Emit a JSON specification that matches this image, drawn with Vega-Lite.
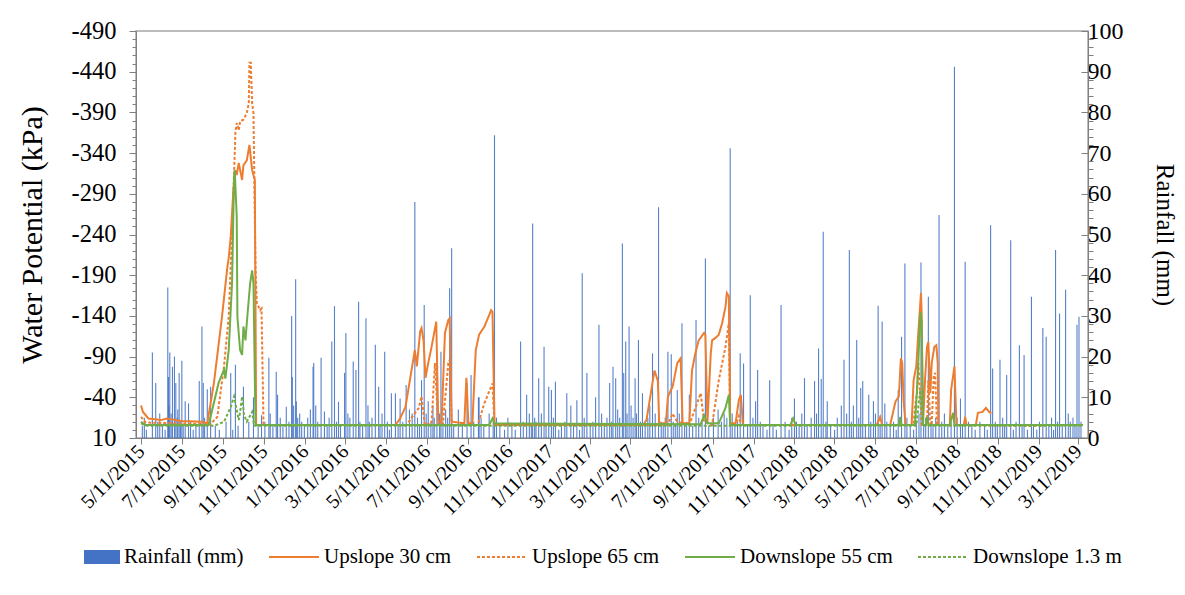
{
"$schema": "https://vega.github.io/schema/vega-lite/v6.json",
"width": 952, "height": 407,
"autosize": {"type": "none"},
"padding": {"left": 136, "top": 31, "right": 97, "bottom": 157},
"background": "white",
"config": {
  "font": "Liberation Serif",
  "view": {"stroke": "#a6a6a6", "strokeWidth": 1.5},
  "axis": {"grid": false, "labelColor": "black", "titleColor": "black", "titleFontWeight": "normal", "domainColor": "#808080", "tickColor": "#808080", "labelFont": "Liberation Serif", "titleFont": "Liberation Serif", "labelOverlap": false, "labelFlush": false, "labelBound": false}
},
"datasets": {
"rain": [
{"d":"2015-05-13","mm":3},{"d":"2015-05-16","mm":5},{"d":"2015-05-19","mm":2},{"d":"2015-05-28","mm":21},{"d":"2015-06-02","mm":13.5},{"d":"2015-06-05","mm":4},{"d":"2015-06-08","mm":6},{"d":"2015-06-12","mm":3},{"d":"2015-06-16","mm":2},{"d":"2015-06-20","mm":37},{"d":"2015-06-21","mm":15},{"d":"2015-06-22","mm":8},{"d":"2015-06-23","mm":21},{"d":"2015-06-25","mm":6},{"d":"2015-06-27","mm":17.5},{"d":"2015-06-30","mm":20},{"d":"2015-07-02","mm":13.5},{"d":"2015-07-04","mm":5},{"d":"2015-07-05","mm":7},{"d":"2015-07-07","mm":16},{"d":"2015-07-09","mm":4},{"d":"2015-07-11","mm":19},{"d":"2015-07-13","mm":3},{"d":"2015-07-16","mm":9},{"d":"2015-07-21","mm":8.5},{"d":"2015-07-24","mm":4},{"d":"2015-07-28","mm":2},{"d":"2015-08-01","mm":3},{"d":"2015-08-06","mm":14},{"d":"2015-08-10","mm":27.4},{"d":"2015-08-12","mm":13.5},{"d":"2015-08-14","mm":5},{"d":"2015-08-18","mm":12},{"d":"2015-08-23","mm":12.6},{"d":"2015-08-30","mm":3},{"d":"2015-09-05","mm":2},{"d":"2015-09-15","mm":4},{"d":"2015-09-22","mm":16},{"d":"2015-09-25","mm":2},{"d":"2015-09-29","mm":18},{"d":"2015-10-03","mm":3},{"d":"2015-10-11","mm":12.6},{"d":"2015-10-19","mm":4},{"d":"2015-10-26","mm":10},{"d":"2015-11-02","mm":3},{"d":"2015-11-07","mm":5.6},{"d":"2015-11-12","mm":4},{"d":"2015-11-18","mm":19.7},{"d":"2015-11-20","mm":6},{"d":"2015-11-24","mm":3},{"d":"2015-11-29","mm":16.3},{"d":"2015-12-01","mm":10.6},{"d":"2015-12-05","mm":5},{"d":"2015-12-09","mm":3},{"d":"2015-12-14","mm":7.7},{"d":"2015-12-18","mm":4},{"d":"2015-12-22","mm":30},{"d":"2015-12-23","mm":15},{"d":"2015-12-25","mm":8},{"d":"2015-12-28","mm":39},{"d":"2015-12-29","mm":9},{"d":"2015-12-31","mm":5},
{"d":"2016-01-03","mm":6},{"d":"2016-01-06","mm":4},{"d":"2016-01-10","mm":3},{"d":"2016-01-15","mm":5},{"d":"2016-01-19","mm":7},{"d":"2016-01-23","mm":17.5},{"d":"2016-01-24","mm":18.4},{"d":"2016-01-27","mm":8},{"d":"2016-01-30","mm":4},{"d":"2016-02-04","mm":19.7},{"d":"2016-02-09","mm":6.5},{"d":"2016-02-13","mm":3},{"d":"2016-02-16","mm":5},{"d":"2016-02-20","mm":23.7},{"d":"2016-02-24","mm":32.4},{"d":"2016-02-27","mm":4},{"d":"2016-03-01","mm":8.9},{"d":"2016-03-04","mm":3},{"d":"2016-03-10","mm":16},{"d":"2016-03-12","mm":25.8},{"d":"2016-03-15","mm":6},{"d":"2016-03-18","mm":5},{"d":"2016-03-23","mm":18.8},{"d":"2016-03-27","mm":16.7},{"d":"2016-03-31","mm":33.5},{"d":"2016-04-02","mm":4},{"d":"2016-04-06","mm":3},{"d":"2016-04-11","mm":29.4},{"d":"2016-04-14","mm":8},{"d":"2016-04-16","mm":4},{"d":"2016-04-20","mm":5},{"d":"2016-04-25","mm":22.9},{"d":"2016-04-30","mm":12.6},{"d":"2016-05-02","mm":3},{"d":"2016-05-05","mm":6},{"d":"2016-05-09","mm":21.2},{"d":"2016-05-13","mm":4},{"d":"2016-05-16","mm":2},{"d":"2016-05-19","mm":11},{"d":"2016-05-25","mm":11},{"d":"2016-05-29","mm":3},{"d":"2016-06-01","mm":9.7},{"d":"2016-06-05","mm":4},{"d":"2016-06-10","mm":13},{"d":"2016-06-15","mm":7},{"d":"2016-06-19","mm":6},{"d":"2016-06-23","mm":58},{"d":"2016-06-27","mm":5},{"d":"2016-06-30","mm":3},{"d":"2016-07-03","mm":14.2},{"d":"2016-07-07","mm":32.7},{"d":"2016-07-10","mm":6},{"d":"2016-07-13","mm":9},{"d":"2016-07-17","mm":4},{"d":"2016-07-20","mm":8},{"d":"2016-07-22","mm":5},{"d":"2016-07-26","mm":19.2},{"d":"2016-07-30","mm":6},{"d":"2016-08-01","mm":21.2},{"d":"2016-08-04","mm":4},{"d":"2016-08-08","mm":7},{"d":"2016-08-11","mm":5},{"d":"2016-08-14","mm":36.8},{"d":"2016-08-17","mm":46.6},{"d":"2016-08-20","mm":3},{"d":"2016-08-27","mm":7},{"d":"2016-09-02","mm":3},{"d":"2016-09-09","mm":13.5},{"d":"2016-09-15","mm":15.5},{"d":"2016-09-19","mm":4},{"d":"2016-09-26","mm":10},{"d":"2016-09-27","mm":10},{"d":"2016-09-30","mm":5},{"d":"2016-10-04","mm":3},{"d":"2016-10-12","mm":6},{"d":"2016-10-18","mm":4},{"d":"2016-10-20","mm":74.4},{"d":"2016-10-23","mm":5},{"d":"2016-10-28","mm":3},{"d":"2016-11-04","mm":2},{"d":"2016-11-09","mm":5},{"d":"2016-11-15","mm":3},{"d":"2016-11-20","mm":2},{"d":"2016-11-28","mm":23.7},{"d":"2016-12-02","mm":4},{"d":"2016-12-07","mm":10.6},{"d":"2016-12-11","mm":6},{"d":"2016-12-14","mm":3},{"d":"2016-12-16","mm":52.7},{"d":"2016-12-19","mm":5},{"d":"2016-12-21","mm":4},{"d":"2016-12-25","mm":14.7},{"d":"2016-12-29","mm":6},
{"d":"2017-01-02","mm":22.4},{"d":"2017-01-05","mm":3},{"d":"2017-01-09","mm":12.6},{"d":"2017-01-13","mm":11.8},{"d":"2017-01-16","mm":5},{"d":"2017-01-19","mm":13.8},{"d":"2017-01-24","mm":2},{"d":"2017-01-28","mm":3},{"d":"2017-02-02","mm":4},{"d":"2017-02-05","mm":11},{"d":"2017-02-11","mm":8},{"d":"2017-02-15","mm":3},{"d":"2017-02-20","mm":9.3},{"d":"2017-02-24","mm":2},{"d":"2017-02-28","mm":40.5},{"d":"2017-03-03","mm":5},{"d":"2017-03-07","mm":16},{"d":"2017-03-12","mm":3},{"d":"2017-03-16","mm":4},{"d":"2017-03-20","mm":10},{"d":"2017-03-25","mm":27.8},{"d":"2017-03-29","mm":6},{"d":"2017-04-02","mm":3},{"d":"2017-04-06","mm":5},{"d":"2017-04-10","mm":13.5},{"d":"2017-04-13","mm":4},{"d":"2017-04-15","mm":17.5},{"d":"2017-04-19","mm":14.7},{"d":"2017-04-22","mm":7},{"d":"2017-04-25","mm":5},{"d":"2017-04-29","mm":47.8},{"d":"2017-05-01","mm":16},{"d":"2017-05-04","mm":23.7},{"d":"2017-05-06","mm":6},{"d":"2017-05-09","mm":27.4},{"d":"2017-05-12","mm":8},{"d":"2017-05-15","mm":5},{"d":"2017-05-18","mm":14.7},{"d":"2017-05-20","mm":6},{"d":"2017-05-23","mm":24.1},{"d":"2017-05-26","mm":4},{"d":"2017-05-29","mm":11},{"d":"2017-06-02","mm":3},{"d":"2017-06-06","mm":5},{"d":"2017-06-09","mm":8},{"d":"2017-06-13","mm":20.8},{"d":"2017-06-17","mm":6},{"d":"2017-06-22","mm":56.7},{"d":"2017-06-26","mm":4},{"d":"2017-06-29","mm":3},{"d":"2017-07-02","mm":5},{"d":"2017-07-06","mm":21.2},{"d":"2017-07-11","mm":20.6},{"d":"2017-07-14","mm":4},{"d":"2017-07-17","mm":3},{"d":"2017-07-20","mm":11.8},{"d":"2017-07-23","mm":6},{"d":"2017-07-27","mm":28.2},{"d":"2017-07-31","mm":3},{"d":"2017-08-03","mm":4},{"d":"2017-08-07","mm":10.6},{"d":"2017-08-12","mm":3},{"d":"2017-08-17","mm":29},{"d":"2017-08-21","mm":5},{"d":"2017-08-26","mm":4},{"d":"2017-08-31","mm":44.1},{"d":"2017-09-05","mm":3},{"d":"2017-09-12","mm":5},{"d":"2017-09-19","mm":7},{"d":"2017-09-24","mm":4},{"d":"2017-09-28","mm":6},{"d":"2017-10-02","mm":5},{"d":"2017-10-07","mm":71.2},{"d":"2017-10-10","mm":6},{"d":"2017-10-14","mm":3},{"d":"2017-10-18","mm":4},{"d":"2017-10-22","mm":20.8},{"d":"2017-10-27","mm":18.3},{"d":"2017-11-02","mm":3},{"d":"2017-11-06","mm":35.1},{"d":"2017-11-10","mm":5},{"d":"2017-11-14","mm":9},{"d":"2017-11-17","mm":16.7},{"d":"2017-11-21","mm":4},{"d":"2017-11-25","mm":3},{"d":"2017-12-01","mm":2},{"d":"2017-12-05","mm":14.2},{"d":"2017-12-10","mm":3},{"d":"2017-12-15","mm":2},{"d":"2017-12-22","mm":32.7},{"d":"2017-12-28","mm":4},
{"d":"2018-01-03","mm":2},{"d":"2018-01-07","mm":5},{"d":"2018-01-11","mm":9.7},{"d":"2018-01-14","mm":4},{"d":"2018-01-18","mm":3},{"d":"2018-01-22","mm":6},{"d":"2018-01-26","mm":14.7},{"d":"2018-01-30","mm":3},{"d":"2018-02-05","mm":5},{"d":"2018-02-10","mm":14},{"d":"2018-02-13","mm":6},{"d":"2018-02-16","mm":22},{"d":"2018-02-20","mm":14.5},{"d":"2018-02-23","mm":50.7},{"d":"2018-02-27","mm":4},{"d":"2018-03-01","mm":9},{"d":"2018-03-06","mm":3},{"d":"2018-03-12","mm":2},{"d":"2018-03-16","mm":5},{"d":"2018-03-22","mm":8},{"d":"2018-03-26","mm":19.2},{"d":"2018-03-30","mm":6},{"d":"2018-04-03","mm":46.2},{"d":"2018-04-06","mm":4},{"d":"2018-04-09","mm":8},{"d":"2018-04-14","mm":24.1},{"d":"2018-04-17","mm":5},{"d":"2018-04-20","mm":12.3},{"d":"2018-04-23","mm":14},{"d":"2018-04-27","mm":3},{"d":"2018-05-02","mm":10.6},{"d":"2018-05-05","mm":4},{"d":"2018-05-09","mm":9},{"d":"2018-05-12","mm":6},{"d":"2018-05-16","mm":32.5},{"d":"2018-05-19","mm":3},{"d":"2018-05-22","mm":28.6},{"d":"2018-05-26","mm":8.5},{"d":"2018-05-29","mm":4},{"d":"2018-06-03","mm":3},{"d":"2018-06-08","mm":4},{"d":"2018-06-12","mm":2},{"d":"2018-06-15","mm":11.8},{"d":"2018-06-20","mm":24.9},{"d":"2018-06-25","mm":42.9},{"d":"2018-06-28","mm":5},{"d":"2018-07-03","mm":3},{"d":"2018-07-08","mm":2},{"d":"2018-07-12","mm":4},{"d":"2018-07-16","mm":6},{"d":"2018-07-19","mm":43.1},{"d":"2018-07-23","mm":3},{"d":"2018-07-26","mm":5},{"d":"2018-07-30","mm":34.7},{"d":"2018-08-03","mm":4},{"d":"2018-08-06","mm":3},{"d":"2018-08-10","mm":5},{"d":"2018-08-15","mm":54.8},{"d":"2018-08-19","mm":4},{"d":"2018-08-23","mm":6},{"d":"2018-08-28","mm":3},{"d":"2018-09-02","mm":4},{"d":"2018-09-07","mm":91.2},{"d":"2018-09-11","mm":5},{"d":"2018-09-16","mm":9.7},{"d":"2018-09-19","mm":3},{"d":"2018-09-23","mm":43.3},{"d":"2018-09-28","mm":4},{"d":"2018-10-03","mm":3},{"d":"2018-10-08","mm":2},{"d":"2018-10-15","mm":4},{"d":"2018-10-22","mm":3},{"d":"2018-10-26","mm":2},{"d":"2018-10-31","mm":52.3},{"d":"2018-11-03","mm":17.1},{"d":"2018-11-07","mm":4},{"d":"2018-11-10","mm":3},{"d":"2018-11-14","mm":19.2},{"d":"2018-11-18","mm":5},{"d":"2018-11-21","mm":3},{"d":"2018-11-24","mm":15.5},{"d":"2018-11-30","mm":48.6},{"d":"2018-12-04","mm":2},{"d":"2018-12-08","mm":4},{"d":"2018-12-13","mm":22.8},{"d":"2018-12-17","mm":3},{"d":"2018-12-20","mm":20.4},{"d":"2018-12-25","mm":2},{"d":"2018-12-31","mm":34.7},
{"d":"2019-01-03","mm":3},{"d":"2019-01-08","mm":2},{"d":"2019-01-12","mm":4},{"d":"2019-01-17","mm":27},{"d":"2019-01-22","mm":24.9},{"d":"2019-01-26","mm":3},{"d":"2019-01-30","mm":5},{"d":"2019-02-02","mm":2},{"d":"2019-02-05","mm":46.2},{"d":"2019-02-08","mm":4},{"d":"2019-02-11","mm":30.6},{"d":"2019-02-15","mm":3},{"d":"2019-02-20","mm":36.4},{"d":"2019-02-24","mm":6},{"d":"2019-02-27","mm":4},{"d":"2019-03-03","mm":5},{"d":"2019-03-06","mm":3},{"d":"2019-03-09","mm":27.8},{"d":"2019-03-12","mm":29.8},{"d":"2019-03-15","mm":4}
],
"wp": [
{"s":"Upslope 30 cm","d":"2015-05-11","v":-30},{"s":"Upslope 30 cm","d":"2015-05-14","v":-22},{"s":"Upslope 30 cm","d":"2015-05-22","v":-14},{"s":"Upslope 30 cm","d":"2015-06-10","v":-12},{"s":"Upslope 30 cm","d":"2015-06-18","v":-14},{"s":"Upslope 30 cm","d":"2015-07-10","v":-11},{"s":"Upslope 30 cm","d":"2015-08-10","v":-10},{"s":"Upslope 30 cm","d":"2015-08-18","v":-8},{"s":"Upslope 30 cm","d":"2015-08-28","v":-58},{"s":"Upslope 30 cm","d":"2015-09-09","v":-139},{"s":"Upslope 30 cm","d":"2015-09-17","v":-200},{"s":"Upslope 30 cm","d":"2015-09-19","v":-211},{"s":"Upslope 30 cm","d":"2015-09-22","v":-237},{"s":"Upslope 30 cm","d":"2015-09-26","v":-295},{"s":"Upslope 30 cm","d":"2015-09-29","v":-319},{"s":"Upslope 30 cm","d":"2015-10-01","v":-313},{"s":"Upslope 30 cm","d":"2015-10-04","v":-328},{"s":"Upslope 30 cm","d":"2015-10-09","v":-307},{"s":"Upslope 30 cm","d":"2015-10-11","v":-325},{"s":"Upslope 30 cm","d":"2015-10-16","v":-331},{"s":"Upslope 30 cm","d":"2015-10-20","v":-350},{"s":"Upslope 30 cm","d":"2015-10-24","v":-319},{"s":"Upslope 30 cm","d":"2015-10-28","v":-307},{"s":"Upslope 30 cm","d":"2015-10-30","v":-6},
{"s":"Upslope 30 cm","d":"2016-05-25","v":-6},{"s":"Upslope 30 cm","d":"2016-06-01","v":-14},{"s":"Upslope 30 cm","d":"2016-06-09","v":-28},{"s":"Upslope 30 cm","d":"2016-06-19","v":-78},{"s":"Upslope 30 cm","d":"2016-06-23","v":-98},{"s":"Upslope 30 cm","d":"2016-06-26","v":-78},{"s":"Upslope 30 cm","d":"2016-07-01","v":-121},{"s":"Upslope 30 cm","d":"2016-07-03","v":-125},{"s":"Upslope 30 cm","d":"2016-07-06","v":-110},{"s":"Upslope 30 cm","d":"2016-07-09","v":-64},{"s":"Upslope 30 cm","d":"2016-07-13","v":-82},{"s":"Upslope 30 cm","d":"2016-07-18","v":-102},{"s":"Upslope 30 cm","d":"2016-07-25","v":-133},{"s":"Upslope 30 cm","d":"2016-07-28","v":-10},{"s":"Upslope 30 cm","d":"2016-08-02","v":-10},{"s":"Upslope 30 cm","d":"2016-08-07","v":-119},{"s":"Upslope 30 cm","d":"2016-08-12","v":-135},{"s":"Upslope 30 cm","d":"2016-08-14","v":-137},{"s":"Upslope 30 cm","d":"2016-08-17","v":-10},{"s":"Upslope 30 cm","d":"2016-09-05","v":-8},{"s":"Upslope 30 cm","d":"2016-09-08","v":-64},{"s":"Upslope 30 cm","d":"2016-09-11","v":-8},{"s":"Upslope 30 cm","d":"2016-09-17","v":-8},{"s":"Upslope 30 cm","d":"2016-09-22","v":-98},{"s":"Upslope 30 cm","d":"2016-09-27","v":-117},{"s":"Upslope 30 cm","d":"2016-10-05","v":-127},{"s":"Upslope 30 cm","d":"2016-10-10","v":-137},{"s":"Upslope 30 cm","d":"2016-10-15","v":-147},{"s":"Upslope 30 cm","d":"2016-10-17","v":-145},{"s":"Upslope 30 cm","d":"2016-10-20","v":-6},
{"s":"Upslope 30 cm","d":"2017-05-30","v":-6},{"s":"Upslope 30 cm","d":"2017-06-04","v":-12},{"s":"Upslope 30 cm","d":"2017-06-16","v":-73},{"s":"Upslope 30 cm","d":"2017-06-21","v":-60},{"s":"Upslope 30 cm","d":"2017-06-23","v":-8},{"s":"Upslope 30 cm","d":"2017-07-03","v":-8},{"s":"Upslope 30 cm","d":"2017-07-06","v":-41},{"s":"Upslope 30 cm","d":"2017-07-13","v":-53},{"s":"Upslope 30 cm","d":"2017-07-20","v":-82},{"s":"Upslope 30 cm","d":"2017-07-25","v":-88},{"s":"Upslope 30 cm","d":"2017-07-28","v":-8},{"s":"Upslope 30 cm","d":"2017-08-07","v":-8},{"s":"Upslope 30 cm","d":"2017-08-11","v":-73},{"s":"Upslope 30 cm","d":"2017-08-16","v":-94},{"s":"Upslope 30 cm","d":"2017-08-21","v":-110},{"s":"Upslope 30 cm","d":"2017-08-29","v":-119},{"s":"Upslope 30 cm","d":"2017-08-31","v":-117},{"s":"Upslope 30 cm","d":"2017-09-03","v":-8},{"s":"Upslope 30 cm","d":"2017-09-08","v":-94},{"s":"Upslope 30 cm","d":"2017-09-10","v":-110},{"s":"Upslope 30 cm","d":"2017-09-15","v":-113},{"s":"Upslope 30 cm","d":"2017-09-20","v":-117},{"s":"Upslope 30 cm","d":"2017-09-25","v":-131},{"s":"Upslope 30 cm","d":"2017-09-30","v":-151},{"s":"Upslope 30 cm","d":"2017-10-02","v":-168},{"s":"Upslope 30 cm","d":"2017-10-05","v":-164},{"s":"Upslope 30 cm","d":"2017-10-07","v":-8},{"s":"Upslope 30 cm","d":"2017-10-15","v":-8},{"s":"Upslope 30 cm","d":"2017-10-20","v":-37},{"s":"Upslope 30 cm","d":"2017-10-23","v":-43},{"s":"Upslope 30 cm","d":"2017-10-26","v":-6},
{"s":"Upslope 30 cm","d":"2018-05-14","v":-6},{"s":"Upslope 30 cm","d":"2018-05-19","v":-16},{"s":"Upslope 30 cm","d":"2018-05-22","v":-6},{"s":"Upslope 30 cm","d":"2018-06-03","v":-6},{"s":"Upslope 30 cm","d":"2018-06-11","v":-35},{"s":"Upslope 30 cm","d":"2018-06-16","v":-41},{"s":"Upslope 30 cm","d":"2018-06-19","v":-88},{"s":"Upslope 30 cm","d":"2018-06-21","v":-82},{"s":"Upslope 30 cm","d":"2018-06-23","v":-37},{"s":"Upslope 30 cm","d":"2018-06-26","v":-6},{"s":"Upslope 30 cm","d":"2018-07-05","v":-6},{"s":"Upslope 30 cm","d":"2018-07-08","v":-61},{"s":"Upslope 30 cm","d":"2018-07-12","v":-78},{"s":"Upslope 30 cm","d":"2018-07-15","v":-119},{"s":"Upslope 30 cm","d":"2018-07-19","v":-168},{"s":"Upslope 30 cm","d":"2018-07-20","v":-143},{"s":"Upslope 30 cm","d":"2018-07-22","v":-6},{"s":"Upslope 30 cm","d":"2018-07-25","v":-61},{"s":"Upslope 30 cm","d":"2018-07-28","v":-102},{"s":"Upslope 30 cm","d":"2018-07-30","v":-108},{"s":"Upslope 30 cm","d":"2018-08-02","v":-45},{"s":"Upslope 30 cm","d":"2018-08-04","v":-82},{"s":"Upslope 30 cm","d":"2018-08-08","v":-102},{"s":"Upslope 30 cm","d":"2018-08-11","v":-104},{"s":"Upslope 30 cm","d":"2018-08-13","v":-82},{"s":"Upslope 30 cm","d":"2018-08-14","v":-6},{"s":"Upslope 30 cm","d":"2018-08-31","v":-6},{"s":"Upslope 30 cm","d":"2018-09-02","v":-49},{"s":"Upslope 30 cm","d":"2018-09-07","v":-78},{"s":"Upslope 30 cm","d":"2018-09-10","v":-6},{"s":"Upslope 30 cm","d":"2018-09-21","v":-6},{"s":"Upslope 30 cm","d":"2018-09-23","v":-16},{"s":"Upslope 30 cm","d":"2018-09-25","v":-6},{"s":"Upslope 30 cm","d":"2018-10-09","v":-6},{"s":"Upslope 30 cm","d":"2018-10-12","v":-21},{"s":"Upslope 30 cm","d":"2018-10-19","v":-22},{"s":"Upslope 30 cm","d":"2018-10-24","v":-27},{"s":"Upslope 30 cm","d":"2018-10-29","v":-22},{"s":"Upslope 30 cm","d":"2018-11-01","v":-20},
{"s":"Upslope 65 cm","d":"2015-05-11","v":-16},{"s":"Upslope 65 cm","d":"2015-05-18","v":-9},{"s":"Upslope 65 cm","d":"2015-08-23","v":-7},{"s":"Upslope 65 cm","d":"2015-09-02","v":-16},{"s":"Upslope 65 cm","d":"2015-09-12","v":-78},{"s":"Upslope 65 cm","d":"2015-09-19","v":-139},{"s":"Upslope 65 cm","d":"2015-09-24","v":-242},{"s":"Upslope 65 cm","d":"2015-09-29","v":-365},{"s":"Upslope 65 cm","d":"2015-10-01","v":-377},{"s":"Upslope 65 cm","d":"2015-10-04","v":-368},{"s":"Upslope 65 cm","d":"2015-10-06","v":-379},{"s":"Upslope 65 cm","d":"2015-10-11","v":-381},{"s":"Upslope 65 cm","d":"2015-10-16","v":-389},{"s":"Upslope 65 cm","d":"2015-10-19","v":-401},{"s":"Upslope 65 cm","d":"2015-10-20","v":-451},{"s":"Upslope 65 cm","d":"2015-10-22","v":-451},{"s":"Upslope 65 cm","d":"2015-10-24","v":-401},{"s":"Upslope 65 cm","d":"2015-10-26","v":-389},{"s":"Upslope 65 cm","d":"2015-10-29","v":-200},{"s":"Upslope 65 cm","d":"2015-10-31","v":-156},{"s":"Upslope 65 cm","d":"2015-11-05","v":-147},{"s":"Upslope 65 cm","d":"2015-11-07","v":-149},{"s":"Upslope 65 cm","d":"2015-11-10","v":-6},
{"s":"Upslope 65 cm","d":"2016-06-11","v":-6},{"s":"Upslope 65 cm","d":"2016-06-19","v":-16},{"s":"Upslope 65 cm","d":"2016-06-29","v":-27},{"s":"Upslope 65 cm","d":"2016-07-03","v":-41},{"s":"Upslope 65 cm","d":"2016-07-08","v":-6},{"s":"Upslope 65 cm","d":"2016-07-18","v":-8},{"s":"Upslope 65 cm","d":"2016-07-23","v":-82},{"s":"Upslope 65 cm","d":"2016-07-28","v":-6},{"s":"Upslope 65 cm","d":"2016-08-04","v":-8},{"s":"Upslope 65 cm","d":"2016-08-12","v":-82},{"s":"Upslope 65 cm","d":"2016-08-14","v":-86},{"s":"Upslope 65 cm","d":"2016-08-17","v":-6},{"s":"Upslope 65 cm","d":"2016-09-25","v":-6},{"s":"Upslope 65 cm","d":"2016-10-05","v":-33},{"s":"Upslope 65 cm","d":"2016-10-15","v":-53},{"s":"Upslope 65 cm","d":"2016-10-17","v":-57},{"s":"Upslope 65 cm","d":"2016-10-20","v":-6},
{"s":"Upslope 65 cm","d":"2017-07-06","v":-6},{"s":"Upslope 65 cm","d":"2017-07-13","v":-20},{"s":"Upslope 65 cm","d":"2017-07-20","v":-10},{"s":"Upslope 65 cm","d":"2017-08-07","v":-6},{"s":"Upslope 65 cm","d":"2017-08-24","v":-45},{"s":"Upslope 65 cm","d":"2017-08-29","v":-10},{"s":"Upslope 65 cm","d":"2017-09-10","v":-6},{"s":"Upslope 65 cm","d":"2017-09-20","v":-61},{"s":"Upslope 65 cm","d":"2017-09-30","v":-102},{"s":"Upslope 65 cm","d":"2017-10-05","v":-131},{"s":"Upslope 65 cm","d":"2017-10-07","v":-6},{"s":"Upslope 65 cm","d":"2017-10-15","v":-6},{"s":"Upslope 65 cm","d":"2017-10-20","v":-17},{"s":"Upslope 65 cm","d":"2017-10-23","v":-6},
{"s":"Upslope 65 cm","d":"2018-07-08","v":-6},{"s":"Upslope 65 cm","d":"2018-07-10","v":-28},{"s":"Upslope 65 cm","d":"2018-07-13","v":-45},{"s":"Upslope 65 cm","d":"2018-07-15","v":-82},{"s":"Upslope 65 cm","d":"2018-07-18","v":-40},{"s":"Upslope 65 cm","d":"2018-07-20","v":-6},{"s":"Upslope 65 cm","d":"2018-07-28","v":-6},{"s":"Upslope 65 cm","d":"2018-07-30","v":-61},{"s":"Upslope 65 cm","d":"2018-08-02","v":-6},{"s":"Upslope 65 cm","d":"2018-08-04","v":-6},{"s":"Upslope 65 cm","d":"2018-08-07","v":-65},{"s":"Upslope 65 cm","d":"2018-08-09","v":-70},{"s":"Upslope 65 cm","d":"2018-08-12","v":-6},{"s":"Upslope 65 cm","d":"2019-01-21","v":-5},
{"s":"Downslope 55 cm","d":"2015-05-11","v":-10},{"s":"Downslope 55 cm","d":"2015-05-18","v":-6},{"s":"Downslope 55 cm","d":"2015-08-20","v":-6},{"s":"Downslope 55 cm","d":"2015-09-04","v":-58},{"s":"Downslope 55 cm","d":"2015-09-12","v":-74},{"s":"Downslope 55 cm","d":"2015-09-14","v":-63},{"s":"Downslope 55 cm","d":"2015-09-19","v":-98},{"s":"Downslope 55 cm","d":"2015-09-24","v":-180},{"s":"Downslope 55 cm","d":"2015-09-27","v":-311},{"s":"Downslope 55 cm","d":"2015-09-28","v":-319},{"s":"Downslope 55 cm","d":"2015-10-01","v":-262},{"s":"Downslope 55 cm","d":"2015-10-02","v":-139},{"s":"Downslope 55 cm","d":"2015-10-06","v":-98},{"s":"Downslope 55 cm","d":"2015-10-09","v":-92},{"s":"Downslope 55 cm","d":"2015-10-11","v":-127},{"s":"Downslope 55 cm","d":"2015-10-14","v":-110},{"s":"Downslope 55 cm","d":"2015-10-16","v":-131},{"s":"Downslope 55 cm","d":"2015-10-21","v":-180},{"s":"Downslope 55 cm","d":"2015-10-24","v":-196},{"s":"Downslope 55 cm","d":"2015-10-26","v":-180},{"s":"Downslope 55 cm","d":"2015-10-29","v":-6},{"s":"Downslope 55 cm","d":"2016-10-12","v":-6},{"s":"Downslope 55 cm","d":"2016-10-17","v":-14},{"s":"Downslope 55 cm","d":"2016-10-20","v":-8},{"s":"Downslope 55 cm","d":"2017-08-24","v":-7},{"s":"Downslope 55 cm","d":"2017-08-29","v":-18},{"s":"Downslope 55 cm","d":"2017-09-03","v":-8},{"s":"Downslope 55 cm","d":"2017-09-20","v":-8},{"s":"Downslope 55 cm","d":"2017-09-30","v":-27},{"s":"Downslope 55 cm","d":"2017-10-05","v":-43},{"s":"Downslope 55 cm","d":"2017-10-07","v":-6},{"s":"Downslope 55 cm","d":"2018-01-05","v":-6},{"s":"Downslope 55 cm","d":"2018-01-09","v":-14},{"s":"Downslope 55 cm","d":"2018-01-13","v":-6},{"s":"Downslope 55 cm","d":"2018-06-16","v":-6},{"s":"Downslope 55 cm","d":"2018-06-18","v":-16},{"s":"Downslope 55 cm","d":"2018-06-20","v":-6},{"s":"Downslope 55 cm","d":"2018-07-10","v":-6},{"s":"Downslope 55 cm","d":"2018-07-13","v":-49},{"s":"Downslope 55 cm","d":"2018-07-15","v":-82},{"s":"Downslope 55 cm","d":"2018-07-18","v":-145},{"s":"Downslope 55 cm","d":"2018-07-20","v":-133},{"s":"Downslope 55 cm","d":"2018-07-22","v":-6},{"s":"Downslope 55 cm","d":"2018-07-26","v":-6},{"s":"Downslope 55 cm","d":"2018-07-28","v":-16},{"s":"Downslope 55 cm","d":"2018-07-30","v":-6},{"s":"Downslope 55 cm","d":"2018-08-31","v":-6},{"s":"Downslope 55 cm","d":"2018-09-05","v":-21},{"s":"Downslope 55 cm","d":"2018-09-07","v":-6},{"s":"Downslope 55 cm","d":"2019-03-18","v":-6},
{"s":"Downslope 1.3 m","d":"2015-05-11","v":-8},{"s":"Downslope 1.3 m","d":"2015-05-20","v":-5},{"s":"Downslope 1.3 m","d":"2015-08-28","v":-5},{"s":"Downslope 1.3 m","d":"2015-09-12","v":-10},{"s":"Downslope 1.3 m","d":"2015-09-22","v":-28},{"s":"Downslope 1.3 m","d":"2015-09-27","v":-41},{"s":"Downslope 1.3 m","d":"2015-09-29","v":-33},{"s":"Downslope 1.3 m","d":"2015-10-04","v":-12},{"s":"Downslope 1.3 m","d":"2015-10-06","v":-22},{"s":"Downslope 1.3 m","d":"2015-10-09","v":-41},{"s":"Downslope 1.3 m","d":"2015-10-12","v":-18},{"s":"Downslope 1.3 m","d":"2015-10-16","v":-10},{"s":"Downslope 1.3 m","d":"2015-10-24","v":-22},{"s":"Downslope 1.3 m","d":"2015-10-27","v":-5},{"s":"Downslope 1.3 m","d":"2018-07-12","v":-5},{"s":"Downslope 1.3 m","d":"2018-07-15","v":-28},{"s":"Downslope 1.3 m","d":"2018-07-18","v":-49},{"s":"Downslope 1.3 m","d":"2018-07-20","v":-28},{"s":"Downslope 1.3 m","d":"2018-07-22","v":-5},{"s":"Downslope 1.3 m","d":"2019-03-18","v":-5}
]
},
"encoding": {
  "x": {"field": "d", "type": "temporal",
    "scale": {"type": "utc", "domain": [{"year": 2015, "month": 5, "date": 11, "utc": true}, {"year": 2019, "month": 3, "date": 18, "utc": true}], "nice": false},
    "axis": {"title": null, "format": "%-m/%-d/%Y", "labelAngle": -45, "labelAlign": "right", "labelBaseline": "middle", "labelFontSize": 20, "labelPadding": 4, "tickSize": 6,
      "values": [
        {"year": 2015, "month": 5, "date": 11, "utc": true}, {"year": 2015, "month": 7, "date": 11, "utc": true}, {"year": 2015, "month": 9, "date": 11, "utc": true}, {"year": 2015, "month": 11, "date": 11, "utc": true},
        {"year": 2016, "month": 1, "date": 11, "utc": true}, {"year": 2016, "month": 3, "date": 11, "utc": true}, {"year": 2016, "month": 5, "date": 11, "utc": true}, {"year": 2016, "month": 7, "date": 11, "utc": true}, {"year": 2016, "month": 9, "date": 11, "utc": true}, {"year": 2016, "month": 11, "date": 11, "utc": true},
        {"year": 2017, "month": 1, "date": 11, "utc": true}, {"year": 2017, "month": 3, "date": 11, "utc": true}, {"year": 2017, "month": 5, "date": 11, "utc": true}, {"year": 2017, "month": 7, "date": 11, "utc": true}, {"year": 2017, "month": 9, "date": 11, "utc": true}, {"year": 2017, "month": 11, "date": 11, "utc": true},
        {"year": 2018, "month": 1, "date": 11, "utc": true}, {"year": 2018, "month": 3, "date": 11, "utc": true}, {"year": 2018, "month": 5, "date": 11, "utc": true}, {"year": 2018, "month": 7, "date": 11, "utc": true}, {"year": 2018, "month": 9, "date": 11, "utc": true}, {"year": 2018, "month": 11, "date": 11, "utc": true},
        {"year": 2019, "month": 1, "date": 11, "utc": true}, {"year": 2019, "month": 3, "date": 11, "utc": true}
      ]}
  }
},
"layer": [
  {
    "data": {"name": "rain"},
    "mark": {"type": "bar", "size": 1.1, "opacity": 0.9},
    "encoding": {
      "y": {"field": "mm", "type": "quantitative",
        "scale": {"domain": [0, 100], "nice": false, "zero": true},
        "axis": {"orient": "right", "title": "Rainfall (mm)", "titleFontSize": 25, "titlePadding": 28, "labelFontSize": 24, "labelPadding": 6,
          "values": [0,2,4,6,8,10,12,14,16,18,20,22,24,26,28,30,32,34,36,38,40,42,44,46,48,50,52,54,56,58,60,62,64,66,68,70,72,74,76,78,80,82,84,86,88,90,92,94,96,98,100],
          "labelExpr": "datum.value % 10 === 0 ? '' + datum.value : ''",
          "tickSize": {"condition": {"test": "datum.value % 10 === 0", "value": -7}, "value": 5}}},
      "color": {"datum": "Rainfall (mm)", "type": "nominal",
        "scale": {"domain": ["Rainfall (mm)", "Upslope 30 cm", "Upslope 65 cm", "Downslope 55 cm", "Downslope 1.3 m"], "range": ["#4472C4", "#ED7D31", "#ED7D31", "#70AD47", "#70AD47"]},
        "legend": {"title": null, "orient": "none", "legendX": -68, "legendY": 500, "direction": "horizontal", "padding": 0,
          "symbolType": "stroke", "symbolSize": 2500, "symbolStrokeWidth": 2, "labelFontSize": 21, "labelFont": "Liberation Serif", "labelColor": "black", "labelOffset": 4, "columnPadding": 21,
          "encode": {"symbols": {"update": {
            "shape": {"signal": "datum.value === 'Rainfall (mm)' ? 'M-0.36,-0.24H1V0.24H-0.36Z' : 'stroke'"},
            "fill": {"signal": "datum.value === 'Rainfall (mm)' ? '#4472C4' : 'transparent'"},
            "strokeDash": {"signal": "(datum.value === 'Upslope 65 cm' || datum.value === 'Downslope 1.3 m') ? [3, 2] : []"}}}}}}
    }
  },
  {
    "data": {"name": "wp"},
    "encoding": {
      "y": {"field": "v", "type": "quantitative",
        "scale": {"domain": [-490, 10], "reverse": true, "nice": false, "zero": false},
        "axis": {"orient": "left", "title": "Water Potential (kPa)", "titleFontSize": 30, "titlePadding": 24, "labelFontSize": 24.5, "labelPadding": 13,
          "values": [-490,-480,-470,-460,-450,-440,-430,-420,-410,-400,-390,-380,-370,-360,-350,-340,-330,-320,-310,-300,-290,-280,-270,-260,-250,-240,-230,-220,-210,-200,-190,-180,-170,-160,-150,-140,-130,-120,-110,-100,-90,-80,-70,-60,-50,-40,-30,-20,-10,0,10],
          "labelExpr": "(datum.value - 10) % 50 === 0 ? '' + datum.value : ''",
          "tickSize": {"condition": {"test": "(datum.value - 10) % 50 === 0", "value": 7}, "value": 4}}},
      "color": {"field": "s", "type": "nominal",
        "scale": {"domain": ["Rainfall (mm)", "Upslope 30 cm", "Upslope 65 cm", "Downslope 55 cm", "Downslope 1.3 m"], "range": ["#4472C4", "#ED7D31", "#ED7D31", "#70AD47", "#70AD47"]},
        "legend": {"title": null, "orient": "none", "legendX": -68, "legendY": 500, "direction": "horizontal", "padding": 0,
          "symbolType": "stroke", "symbolSize": 2500, "symbolStrokeWidth": 2, "labelFontSize": 21, "labelFont": "Liberation Serif", "labelColor": "black", "labelOffset": 4, "columnPadding": 21,
          "encode": {"symbols": {"update": {
            "shape": {"signal": "datum.value === 'Rainfall (mm)' ? 'M-0.36,-0.24H1V0.24H-0.36Z' : 'stroke'"},
            "fill": {"signal": "datum.value === 'Rainfall (mm)' ? '#4472C4' : 'transparent'"},
            "strokeDash": {"signal": "(datum.value === 'Upslope 65 cm' || datum.value === 'Downslope 1.3 m') ? [3, 2] : []"}}}}}}
    },
    "layer": [
      {"transform": [{"filter": "datum.s === 'Upslope 30 cm'"}], "mark": {"type": "line", "strokeWidth": 2}},
      {"transform": [{"filter": "datum.s === 'Upslope 65 cm'"}], "mark": {"type": "line", "strokeWidth": 2, "strokeDash": [3, 2]}},
      {"transform": [{"filter": "datum.s === 'Downslope 55 cm'"}], "mark": {"type": "line", "strokeWidth": 2}},
      {"transform": [{"filter": "datum.s === 'Downslope 1.3 m'"}], "mark": {"type": "line", "strokeWidth": 2, "strokeDash": [3, 2]}}
    ]
  }
],
"resolve": {"scale": {"y": "independent"}}
}
